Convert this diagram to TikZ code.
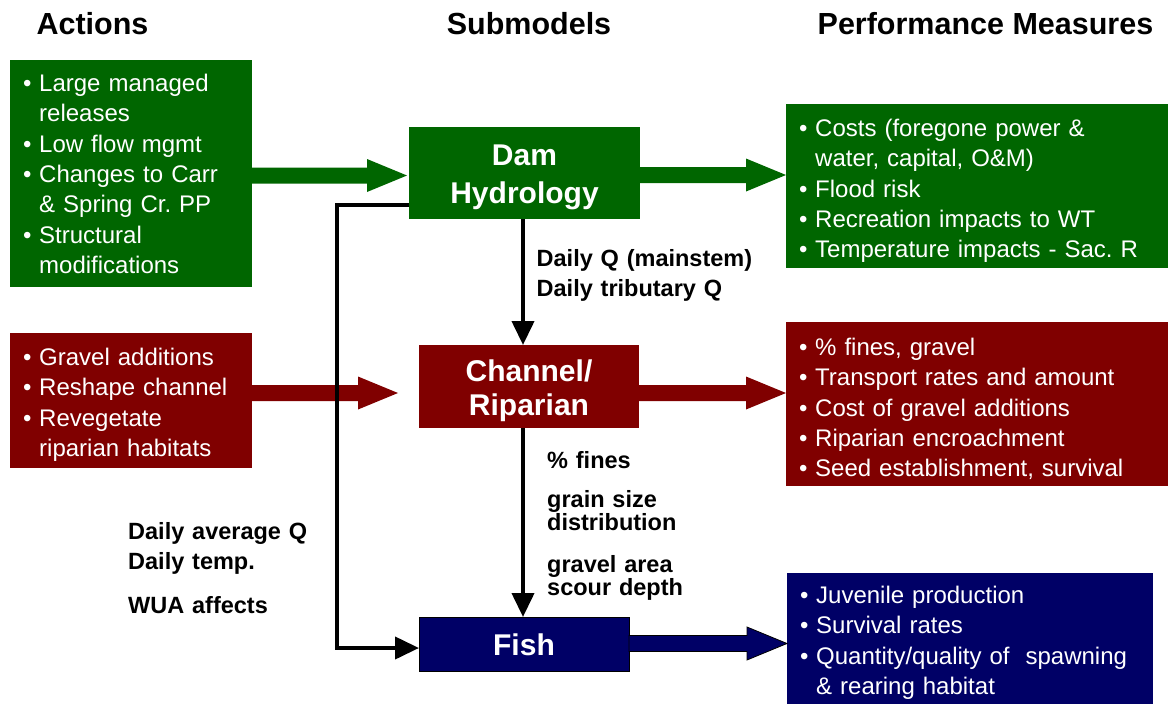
\documentclass[tikz,border=0pt]{standalone}
\usepackage{fontspec}
\setmainfont{Liberation Sans}
\usetikzlibrary{arrows.meta,calc}
\frenchspacing

\definecolor{dkgreen}{HTML}{006600}
\definecolor{dkred}{HTML}{800000}
\definecolor{dknavy}{HTML}{000066}

% bullet with hanging indent
\newcommand\bul{\makebox[16pt][l]{•}}
\newcommand\ind{\hspace*{16pt}}

% wide block arrow: style, start point, tip point (tip sets the y)
\newcommand\fatarrow[3]{%
  \path[#1] let \p1=(#2), \p2=(#3) in
    (\x1,\y2+8pt) -- (\x2-40pt,\y2+8pt) -- (\x2-40pt,\y2+16.5pt) -- (\x2,\y2)
    -- (\x2-40pt,\y2-16.5pt) -- (\x2-40pt,\y2-8pt) -- (\x1,\y2-8pt) -- cycle;}

\begin{document}
\begin{tikzpicture}[x=1pt,y=-1pt,
  box/.style={rectangle, inner sep=0pt, outer sep=0pt, draw=none},
  blist/.style={anchor=base west, inner sep=0pt, text=white, align=left,
    text width=370pt, font=\fontsize{24}{30.3}\selectfont},
  title/.style={anchor=base, inner sep=0pt, text=white, align=center,
    text width=220pt},
  head/.style={anchor=base, inner sep=0pt, font=\bfseries\fontsize{30.5}{36}\selectfont},
  lbl/.style={anchor=base west, inner sep=0pt, align=left, text width=250pt,
    font=\bfseries\fontsize{23.5}{30}\selectfont},
  conn/.style={line width=4pt, -{Triangle[length=24pt,width=22pt]}},
]
\useasboundingbox (0,0) rectangle (1168,705);

% column headings
\node[head] (hact) at (92.5,34) {Actions};
\node[head] (hsub) at (529,34) {Submodels};
\node[head] (hpm) at (985.5,34) {Performance Measures};

% boxes
\node[box, fill=dkgreen, minimum width=242pt, minimum height=227pt] (act1) at (131,173.5) {};
\node[box, fill=dkred, minimum width=242pt, minimum height=135pt] (act2) at (131,400.5) {};
\node[box, fill=dkgreen, minimum width=231pt, minimum height=92pt] (dam) at (524.5,173) {};
\node[box, fill=dkred, minimum width=220pt, minimum height=83pt] (chan) at (529,386.5) {};
\node[box, fill=dknavy, draw=black, line width=0.8pt, minimum width=210pt, minimum height=54pt] (fish) at (524,644) {};
\node[box, fill=dkgreen, minimum width=382pt, minimum height=164pt] (pm1) at (977,186) {};
\node[box, fill=dkred, minimum width=382pt, minimum height=164pt] (pm2) at (977,404) {};
\node[box, fill=dknavy, minimum width=366pt, minimum height=131pt] (pm3) at (970,638.5) {};

% block arrows
\fatarrow{fill=dkgreen}{act1.east |- 0,175.5}{407,175.5}
\fatarrow{fill=dkgreen}{dam.east |- 0,175}{pm1.west |- 0,175}
\fatarrow{fill=dkred}{act2.east |- 0,393}{398,393}
\fatarrow{fill=dkred}{chan.east |- 0,393}{pm2.west |- 0,393}
\fatarrow{fill=dknavy, draw=black, line width=0.8pt}{fish.east |- 0,643.5}{pm3.west |- 0,643.5}

% submodel titles
\node[title, font=\bfseries\fontsize{30}{38}\selectfont] (damtxt) at (524.5,165) {Dam\\Hydrology};
\node[title, font=\bfseries\fontsize{30}{33.5}\selectfont] (chantxt) at (529,381.7) {Channel/\\Riparian};
\node[title, font=\bfseries\fontsize{30}{36}\selectfont] (fishtxt) at (524,655) {Fish};

% box contents
\node[blist] (act1txt) at (23,91.5) {\bul Large managed\\\ind releases\\\bul Low flow mgmt\\\bul Changes to Carr\\\ind \& Spring Cr. PP\\\bul Structural\\\ind modifications};
\node[blist] (act2txt) at (23,365.5) {\bul Gravel additions\\\bul Reshape channel\\\bul Revegetate\\\ind riparian habitats};
\node[blist] (pm1txt) at (799,136.5) {\bul Costs (foregone power \&\\\ind water, capital, O\&M)\\\bul Flood risk\\\bul Recreation impacts to WT\\\bul Temperature impacts - Sac. R};
\node[blist] (pm2txt) at (799,355.5) {\bul \% fines, gravel\\\bul Transport rates and amount\\\bul Cost of gravel additions\\\bul Riparian encroachment\\\bul Seed establishment, survival};
\node[blist] (pm3txt) at (800,603.5) {\bul Juvenile production\\\bul Survival rates\\\bul Quantity/quality of \ spawning\\\ind \& rearing habitat};

% connectors between submodels
\coordinate (loopa) at (337,205);
\coordinate (loopb) at (337,648);
\draw[conn] (dam.south -| 523,0) -- (chan.north -| 523,0);
\draw[conn] (chan.south -| 523,0) -- (fish.north -| 523,0);
\draw[conn] (dam.west |- loopa) -- (loopa) -- (loopb) -- (fish.west |- loopb);

% connector labels
\node[lbl] (lq) at (536.5,266.7) {Daily Q (mainstem)\\Daily tributary Q};
\node[lbl] (lfb) at (128,539) {Daily average Q\\Daily temp.};
\node[lbl] (lwua) at (128,613) {WUA affects};
\node[lbl] (lfines) at (547,468) {\% fines};
\node[lbl, font=\bfseries\fontsize{23.5}{23}\selectfont] (lgrain) at (547,507) {grain size\\distribution};
\node[lbl, font=\bfseries\fontsize{23.5}{23}\selectfont] (lgravel) at (547,572) {gravel area\\scour depth};
\end{tikzpicture}
\end{document}
